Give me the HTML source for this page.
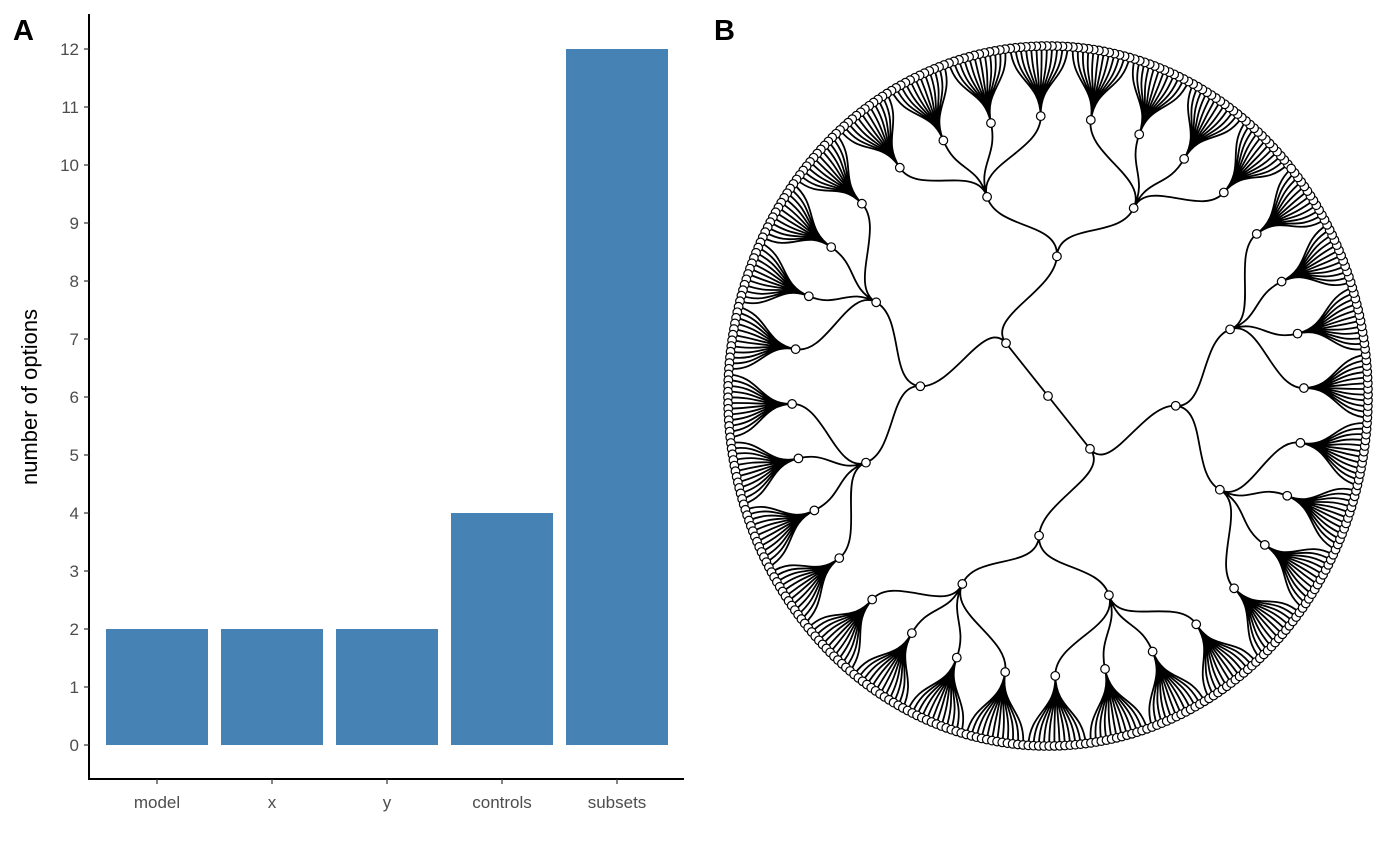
<!DOCTYPE html>
<html><head><meta charset="utf-8"><style>
body{margin:0;background:#fff;}
svg{display:block;font-family:"Liberation Sans",Arial,sans-serif;}
</style></head><body>
<svg id="s" width="1400" height="865">
<text x="13" y="40" font-size="29" font-weight="bold">A</text>
<text x="714" y="40" font-size="29" font-weight="bold">B</text>
<g id="bars"></g>
<g id="tree"></g>
</svg>
<script>
const categories=["model","x","y","controls","subsets"];
const values=[2,2,2,4,12];
const yTicks=[0,1,2,3,4,5,6,7,8,9,10,11,12];
const branching=[2,2,2,4,12];
const NS="http://www.w3.org/2000/svg";
function mk(t,a,p){const e=document.createElementNS(NS,t);for(const k in a)e.setAttribute(k,a[k]);p.appendChild(e);return e;}
const g=document.getElementById('bars');
const y=v=>745-v*58, x=i=>157+i*115;
mk('line',{x1:89,y1:14,x2:89,y2:780,stroke:'#000','stroke-width':2},g);
mk('line',{x1:88,y1:779,x2:684,y2:779,stroke:'#000','stroke-width':2},g);
yTicks.forEach(t=>{
 mk('line',{x1:84,y1:y(t),x2:89,y2:y(t),stroke:'#333','stroke-width':1.2},g);
 const tx=mk('text',{x:79,y:y(t)+6,'font-size':17,fill:'#4d4d4d','text-anchor':'end'},g);tx.textContent=t;
 
 
});
categories.forEach((c,i)=>{
 const r=mk('rect',{x:x(i)-51,y:y(values[i]),width:102,height:y(0)-y(values[i]),fill:'#4682b4'},g);
 
 
 mk('line',{x1:x(i),y1:779,x2:x(i),y2:784,stroke:'#333','stroke-width':1.2},g);
 const tx=mk('text',{x:x(i),y:808,'font-size':17,fill:'#4d4d4d','text-anchor':'middle'},g);tx.textContent=c;
 
 
});
const yl=mk('text',{x:37,y:397,'font-size':22,'text-anchor':'middle',transform:'rotate(-90 37 397)'},g);yl.textContent="number of options";



// tree
const T=document.getElementById('tree');
const cx=1048,cy=396,RX=320,RY=350,theta0=49;
let nleaf=branching.reduce((a,b)=>a*b,1);
let counter=0;
function build(d){
 if(d===branching.length){const n={d,a:theta0-360*(counter+0.5)/nleaf,kids:[]};counter++;return n;}
 const kids=[];for(let i=0;i<branching[d];i++)kids.push(build(d+1));
 return {d,kids,a:kids.reduce((s,k)=>s+k.a,0)/kids.length};
}
const root=build(0);
const L=branching.length;
function pt(r,a){const t=a*Math.PI/180;return [cx+RX*r*Math.sin(t),cy-RY*r*Math.cos(t)];}
let dstr="";const nodes=[];
function walk(n){
 const rp=n.d/L;const p=pt(rp,n.a);nodes.push([p,n]);
 n.kids.forEach(k=>{
  const rc=k.d/L,rm=(rp+rc)/2;
  const e=pt(rc,k.a);
  if(n.d===0){
   dstr+=`M${p[0].toFixed(1)},${p[1].toFixed(1)}L${e[0].toFixed(1)},${e[1].toFixed(1)}`;
  }else{
   const c1=pt(rm,n.a),c2=pt(rm,k.a);
   dstr+=`M${p[0].toFixed(1)},${p[1].toFixed(1)}C${c1[0].toFixed(1)},${c1[1].toFixed(1)} ${c2[0].toFixed(1)},${c2[1].toFixed(1)} ${e[0].toFixed(1)},${e[1].toFixed(1)}`;
  }
  walk(k);
 });
}
walk(root);
mk('path',{d:dstr,fill:'none',stroke:'#000','stroke-width':1.8},T);
nodes.forEach(([p,n])=>{
 const c=mk('circle',{cx:p[0],cy:p[1],r:4.3,fill:'#fff',stroke:'#000','stroke-width':1.2},T);
 
 
});
</script>
</body></html>
